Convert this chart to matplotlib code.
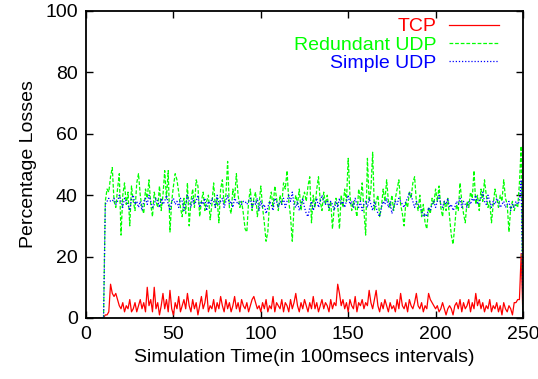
import matplotlib
matplotlib.use("Agg")
import matplotlib.pyplot as plt
import numpy as np

plt.rcParams['font.family'] = ['Liberation Sans', 'DejaVu Sans']

# simulation time steps 0..250
time = np.arange(0, 251)

# first 11 samples are zero for every series
lead = [0] * 11

tcp = lead + [
    1, 1, 2, 11, 8, 7, 8, 6, 4, 3,          # 11-20
    5, 2, 4, 3, 6, 2, 3, 5, 2, 4,           # 21-30
    6, 3, 5, 2, 10, 4, 6, 2, 10, 3,         # 31-40
    5, 1, 4, 8, 3, 6, 2, 9, 3, 1,           # 41-50
    5, 3, 7, 2, 4, 6, 3, 8, 4, 2,           # 51-60
    6, 3, 5, 1, 4, 7, 3, 5, 9, 2,           # 61-70
    4, 3, 6, 2, 5, 3, 7, 4, 2, 6,           # 71-80
    3, 5, 2, 4, 7, 3, 5, 2, 6, 4,           # 81-90
    3, 5, 2, 4, 6, 7, 5, 3, 4, 2,           # 91-100
    5, 3, 6, 2, 4, 3, 7, 2, 5, 4,           # 101-110
    3, 6, 2, 5, 4, 2, 6, 3, 5, 8,           # 111-120
    4, 2, 5, 3, 6, 4, 2, 5, 3, 7,           # 121-130
    3, 5, 2, 4, 6, 3, 5, 4, 2, 6,           # 131-140
    3, 5, 4, 11, 8, 4, 6, 3, 5, 2,          # 141-150
    6, 4, 3, 7, 2, 5, 4, 6, 3, 5,           # 151-160
    4, 9, 5, 3, 6, 9, 4, 2, 5, 3,           # 161-170
    6, 4, 2, 5, 3, 4, 2, 6, 3, 8,           # 171-180
    4, 3, 5, 2, 6, 4, 3, 5, 8, 4,           # 181-190
    3, 5, 2, 4, 3, 8, 6, 5, 4, 3,           # 191-200
    4, 2, 3, 5, 3, 1, 3, 4, 3, 1,           # 201-210
    4, 5, 3, 6, 2, 5, 3, 4, 6, 2,           # 211-220
    5, 3, 8, 4, 6, 3, 5, 2, 4, 3,           # 221-230
    6, 2, 4, 3, 5, 2, 4, 1, 5, 3,           # 231-240
    2, 4, 3, 1, 5, 5, 6, 6, 21,             # 241-249
    0,                                      # 250
]

red_udp = lead + [
    38, 42, 41, 46, 49, 38, 36, 42, 47, 27,  # 11-20
    40, 44, 37, 41, 30, 43, 38, 35, 44, 47,  # 21-30
    40, 36, 34, 42, 39, 45, 37, 33, 41, 38,  # 31-40
    36, 43, 35, 40, 48, 39, 48, 28, 38, 43,  # 41-50
    47, 45, 41, 36, 33, 39, 34, 44, 30, 38,  # 51-60
    42, 36, 45, 43, 33, 38, 41, 35, 38, 40,  # 61-70
    32, 37, 44, 36, 39, 31, 42, 45, 37, 40,  # 71-80
    51, 36, 34, 42, 39, 47, 40, 36, 38, 34,  # 81-90
    29, 28, 38, 42, 35, 39, 41, 33, 37, 43,  # 91-100
    36, 31, 25, 28, 38, 41, 36, 43, 39, 35,  # 101-110
    40, 37, 44, 42, 48, 38, 33, 25, 36, 40,  # 111-120
    37, 42, 35, 39, 41, 38, 43, 46, 31, 40,  # 121-130
    36, 42, 46, 38, 35, 41, 37, 40, 35, 38,  # 131-140
    29, 36, 39, 37, 29, 40, 36, 42, 38, 52,  # 141-150
    40, 35, 38, 36, 33, 42, 38, 44, 35, 27,  # 151-160
    52, 38, 42, 54, 35, 38, 40, 33, 36, 42,  # 161-170
    38, 45, 38, 36, 40, 35, 39, 42, 45, 37,  # 171-180
    34, 30, 38, 36, 41, 39, 44, 46, 38, 35,  # 181-190
    40, 33, 37, 31, 29, 36, 34, 39, 37, 42,  # 191-200
    38, 43, 36, 33, 38, 35, 39, 33, 27, 24,  # 201-210
    30, 37, 35, 44, 38, 34, 31, 38, 36, 41,  # 211-220
    39, 48, 37, 40, 35, 42, 38, 45, 40, 36,  # 221-230
    38, 31, 37, 42, 39, 36, 40, 38, 45, 39,  # 231-240
    37, 28, 36, 38, 35, 37, 36, 44, 56,      # 241-249
    0,                                       # 250
]

simple_udp = lead + [
    37, 38, 39, 38, 38, 39, 37, 38, 40, 38,  # 11-20
    36, 39, 38, 37, 35, 39, 40, 37, 38, 36,  # 21-30
    38, 35, 38, 39, 37, 40, 38, 36, 37, 39,  # 31-40
    38, 36, 39, 37, 38, 40, 37, 35, 38, 39,  # 41-50
    37, 38, 36, 39, 38, 35, 37, 40, 38, 36,  # 51-60
    39, 37, 38, 40, 36, 38, 37, 39, 35, 38,  # 61-70
    37, 39, 38, 36, 40, 37, 38, 39, 36, 38,  # 71-80
    40, 37, 38, 36, 39, 38, 37, 38, 37, 38,  # 81-90
    38, 37, 38, 39, 36, 38, 37, 39, 35, 38,  # 91-100
    36, 37, 34, 36, 38, 37, 35, 39, 38, 36,  # 101-110
    38, 37, 39, 36, 38, 40, 38, 41, 37, 36,  # 111-120
    38, 35, 37, 39, 36, 34, 33, 36, 38, 35,  # 121-130
    37, 39, 36, 38, 40, 38, 37, 38, 36, 38,  # 131-140
    37, 35, 38, 36, 39, 37, 38, 36, 38, 40,  # 141-150
    37, 38, 36, 39, 37, 36, 38, 35, 37, 38,  # 151-160
    36, 39, 37, 35, 38, 36, 34, 33, 36, 38,  # 161-170
    37, 39, 36, 38, 34, 36, 38, 37, 39, 38,  # 171-180
    37, 36, 38, 39, 41, 40, 38, 36, 38, 37,  # 181-190
    36, 35, 33, 34, 33, 36, 35, 37, 38, 36,  # 191-200
    38, 40, 37, 36, 38, 37, 39, 36, 37, 35,  # 201-210
    36, 38, 37, 39, 36, 38, 37, 36, 38, 37,  # 211-220
    39, 38, 40, 37, 38, 39, 41, 38, 37, 40,  # 221-230
    38, 36, 38, 37, 39, 38, 36, 37, 38, 36,  # 231-240
    37, 38, 35, 37, 36, 38, 37, 38, 45,      # 241-249
    0,                                       # 250
]

fig = plt.figure(figsize=(5.38, 3.79), dpi=100)
ax = fig.add_axes([0.16, 0.161, 0.812, 0.81])

ax.plot(time, tcp, color=(1, 0, 0), lw=0.9, label="TCP")
ax.plot(time, red_udp, color=(0, 1, 0), lw=0.9, dashes=(3, 1.5), label="Redundant UDP")
ax.plot(time, simple_udp, color=(0, 0, 1), lw=0.9, dashes=(1, 1.5), label="Simple UDP")

ax.set_xlim(0, 250)
ax.set_ylim(0, 100)
ax.set_xticks([0, 50, 100, 150, 200, 250])
ax.set_yticks([0, 20, 40, 60, 80, 100])
ax.tick_params(direction='in', top=True, right=True, length=5, width=1, labelsize=14, pad=6)
for s in ax.spines.values():
    s.set_linewidth(1.3)

ax.set_xlabel("Simulation Time(in 100msecs intervals)", fontsize=14, labelpad=4)
ax.set_ylabel("Percentage Losses", fontsize=14, labelpad=6)

ax.legend(loc='upper right', bbox_to_anchor=(0.977, 1.022), frameon=False, markerfirst=False,
          labelcolor='linecolor', fontsize=14, handlelength=2.6, handletextpad=0.65,
          labelspacing=0.03, borderpad=0.2)

fig.savefig("out.png", dpi=100)
